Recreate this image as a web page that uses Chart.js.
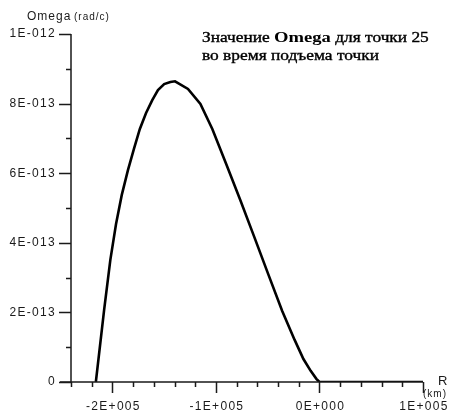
<!DOCTYPE html>
<html>
<head>
<meta charset="utf-8">
<script src="https://cdn.jsdelivr.net/npm/chart.js@4"></script>
<style>
  html, body { margin: 0; padding: 0; background: #fff; }
  #wrap { width: 456px; height: 414px; position: relative; }
</style>
</head>
<body>
<div id="wrap"><canvas id="omegaChart" width="456" height="414"></canvas></div>
<script>
// Omega(R) during the rise of point 25
const rKm = [-216000, -208000, -202000, -196500, -191000, -185000, -179000, -173500, -167500,
    -161500, -156000, -150000, -144000, -139500, -127000, -115000, -103500, -90000,
    -76500, -63000, -49500, -36000, -24000, -15500, -8500, -3000, 0, 100000];
const omega = [0, 2.07e-13, 3.51e-13, 4.54e-13, 5.37e-13, 6.09e-13, 6.72e-13, 7.27e-13, 7.73e-13,
    8.10e-13, 8.39e-13, 8.56e-13, 8.62e-13, 8.64e-13, 8.42e-13, 7.99e-13, 7.27e-13, 6.26e-13,
    5.23e-13, 4.17e-13, 3.10e-13, 2.04e-13, 1.21e-13, 0.66e-13, 0.32e-13, 0.09e-13, 0, 0];

// Axis ticks
const xMajorTicks = [-200000, -100000, 0, 100000];
const xTickLabels = ['-2E+005', '-1E+005', '0E+000', '1E+005'];
const xMinorStep = 20000;
const yMajorTicks = [0, 2e-13, 4e-13, 6e-13, 8e-13, 1e-12];
const yTickLabels = ['0', '2E-013', '4E-013', '6E-013', '8E-013', '1E-012'];
const yMinorStep = 1e-13;

const titleLines = [
    [['Значение ', false], ['Omega', true], [' для точки 25', false]],
    [['во время подъема точки', false]]
];

const ink = '#1a1a1a';
const sansFont = '"Liberation Sans", Arial, sans-serif';
const serifFont = '"Liberation Serif", "Times New Roman", serif';

// Draws the framed axes, ticks and all labels by hand
const axesPlugin = {
    id: 'axesPlugin',
    afterDraw(chart) {
        const ctx = chart.ctx;
        const xs = chart.scales.x;
        const ys = chart.scales.y;
        const area = chart.chartArea;
        ctx.save();
        ctx.strokeStyle = ink;
        ctx.lineWidth = 1.5;

        // axis lines
        ctx.beginPath();
        ctx.moveTo(area.left, ys.getPixelForValue(1e-12));
        ctx.lineTo(area.left, area.bottom);
        ctx.moveTo(area.left - 11, area.bottom);
        ctx.lineTo(xs.getPixelForValue(100000), area.bottom);
        ctx.stroke();

        // y ticks
        ctx.beginPath();
        for (let v = 0; v <= 1e-12 + 1e-16; v += yMinorStep) {
            const py = Math.round(ys.getPixelForValue(v)) + 0.5;
            const major = yMajorTicks.some(t => Math.abs(t - v) < 1e-16);
            ctx.moveTo(area.left - (major ? 12 : 5), py);
            ctx.lineTo(area.left, py);
        }
        // x ticks
        for (let v = xs.min; v <= xs.max + 1; v += xMinorStep) {
            const px = Math.round(xs.getPixelForValue(v)) + 0.5;
            const major = xMajorTicks.includes(v);
            ctx.moveTo(px, area.bottom);
            ctx.lineTo(px, area.bottom + (major ? 11 : 5));
        }
        ctx.stroke();

        ctx.fillStyle = ink;
        ctx.letterSpacing = '1.3px';
        ctx.font = '12px ' + sansFont;
        ctx.textAlign = 'right';
        ctx.textBaseline = 'middle';
        yMajorTicks.forEach((v, i) => {
            ctx.fillText(yTickLabels[i], area.left - 15, ys.getPixelForValue(v));
        });
        ctx.textAlign = 'center';
        xMajorTicks.forEach((v, i) => {
            ctx.fillText(xTickLabels[i], xs.getPixelForValue(v) + 1, 407);
        });

        // axis titles
        ctx.textAlign = 'left';
        ctx.letterSpacing = '1px';
        ctx.font = '12px ' + sansFont;
        ctx.fillText('Omega', 27, 17);
        ctx.font = '10px ' + sansFont;
        ctx.fillText('(rad/c)', 74, 17);
        ctx.font = '13px ' + sansFont;
        ctx.fillText('R', 438, 381);
        ctx.font = '10px ' + sansFont;
        ctx.fillText('(km)', 423, 394);
        ctx.letterSpacing = '0px';

        // chart title, set a little wide
        ctx.fillStyle = '#000';
        ctx.textBaseline = 'alphabetic';
        titleLines.forEach((parts, li) => {
            ctx.save();
            ctx.translate(202, 42 + li * 18);
            ctx.scale(1.24, 1);
            let x = 0;
            parts.forEach(([text, bold]) => {
                ctx.font = (bold ? 'bold 15px ' : '14px ') + serifFont;
                ctx.fillText(text, x, 0);
                if (!bold) {
                    ctx.lineWidth = 0.35;
                    ctx.strokeStyle = '#000';
                    ctx.strokeText(text, x, 0);
                }
                x += ctx.measureText(text).width;
            });
            ctx.restore();
        });
        ctx.restore();
    }
};

new Chart(document.getElementById('omegaChart'), {
    type: 'line',
    data: {
        datasets: [{
            data: rKm.map((r, i) => ({ x: r, y: omega[i] })),
            borderColor: '#000',
            borderWidth: 2.6,
            pointRadius: 0,
            tension: 0,
            fill: false
        }]
    },
    options: {
        responsive: false,
        animation: false,
        layout: { padding: { left: 71, top: 34, right: 33, bottom: 32 } },
        plugins: { legend: { display: false }, tooltip: { enabled: false } },
        scales: {
            x: {
                type: 'linear', min: -240000, max: 100000,
                display: false
            },
            y: {
                type: 'linear', min: 0, max: 1e-12,
                display: false
            }
        }
    },
    plugins: [axesPlugin]
});
</script>
</body>
</html>
